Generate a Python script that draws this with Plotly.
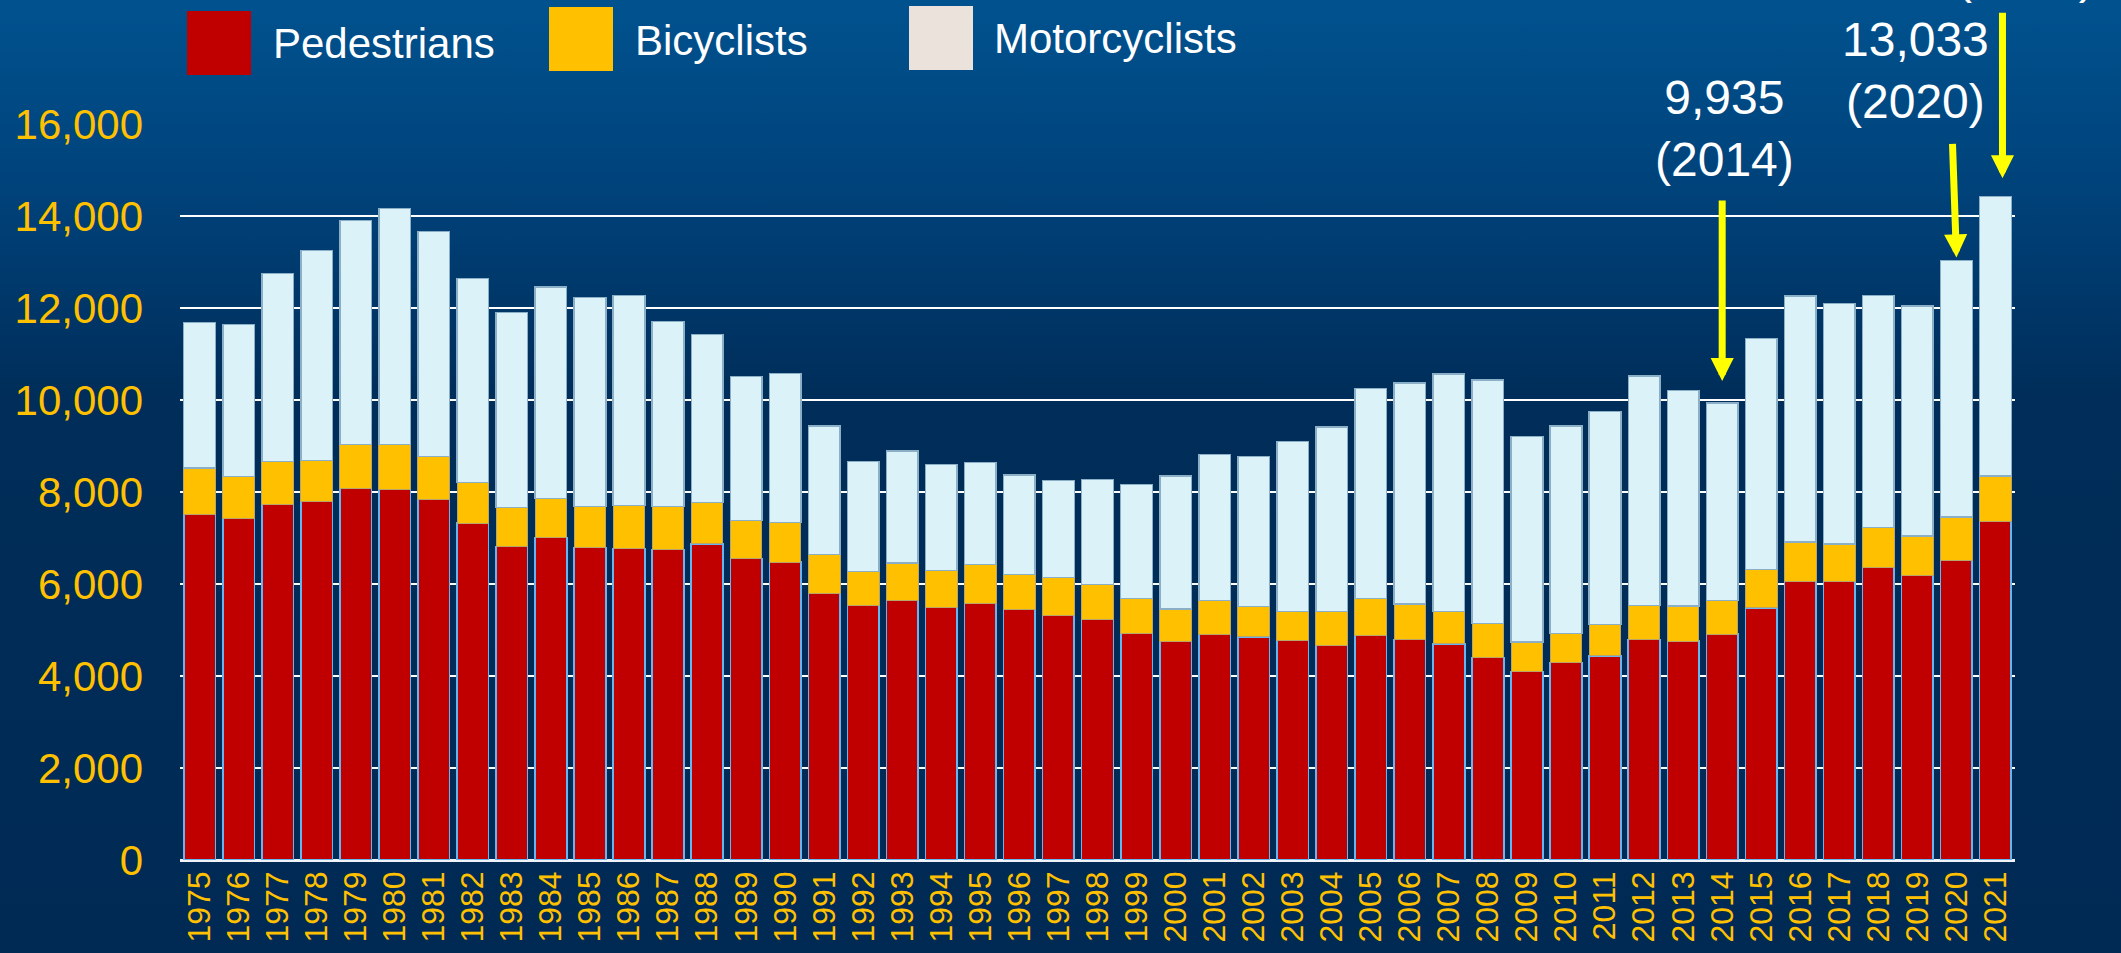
import base64
import plotly.graph_objects as go

# ---------------- data ----------------
years = [str(y) for y in range(1975, 2022)]

pedestrians = [7514, 7420, 7732, 7790, 8087, 8058, 7841, 7326, 6819, 7014,
               6797, 6775, 6746, 6870, 6558, 6478, 5797, 5543, 5645, 5486,
               5580, 5449, 5319, 5225, 4928, 4754, 4899, 4848, 4775, 4674,
               4891, 4797, 4696, 4406, 4101, 4297, 4435, 4795, 4759, 4910,
               5480, 6062, 6062, 6356, 6187, 6516, 7358]

bicyclists = [1008, 921, 927, 898, 942, 971, 934, 877, 840, 841,
              884, 928, 935, 898, 819, 863, 841, 725, 812, 811,
              840, 761, 819, 761, 760, 703, 739, 666, 631, 725,
              790, 768, 703, 732, 638, 631, 684, 737, 758, 730,
              832, 854, 803, 877, 854, 938, 987]

motorcyclists = [3166, 3297, 4087, 4566, 4877, 5130, 4884, 4435, 4247, 4602,
                 4551, 4565, 4029, 3660, 3130, 3231, 2797, 2391, 2434, 2297,
                 2218, 2160, 2108, 2289, 2479, 2891, 3181, 3261, 3695, 4014,
                 4565, 4805, 5166, 5297, 4464, 4507, 4632, 4992, 4691, 4295,
                 5022, 5342, 5228, 5044, 5008, 5579, 6082]

y_ticks = [0, 2000, 4000, 6000, 8000, 10000, 12000, 14000, 16000]
legend_names = ["Pedestrians", "Bicyclists", "Motorcyclists"]
legend_colors = ["#C00000", "#FFC000", "#EBE3DB"]
callout_years = ["2014", "2020", "2021"]

totals = [p + b + m for p, b, m in zip(pedestrians, bicyclists, motorcyclists)]
total_by_year = dict(zip(years, totals))

# ---------------- geometry (pixels) ----------------
W, H = 2121, 953
L, R, T, B = 180, 106, 124, 93
PW, PH = W - L - R, H - T - B


def px_x(px):
    return (px - L) / PW


def px_y(py):
    return (H - B - py) / PH


FONT = "Arial, 'Liberation Sans', sans-serif"
YELLOW = "#FFC000"

fig = go.Figure()

fig.add_trace(go.Bar(x=years, y=pedestrians, name="Pedestrians",
                     marker=dict(color="#C00000", line=dict(color="#66B4F0", width=1.6)),
                     showlegend=False))
fig.add_trace(go.Bar(x=years, y=bicyclists, name="Bicyclists",
                     marker=dict(color="#FFC000", line=dict(color="#B9A46A", width=1)),
                     showlegend=False))
fig.add_trace(go.Bar(x=years, y=motorcyclists, name="Motorcyclists",
                     marker=dict(color="#DAF2F8", line=dict(color="#8AAFC6", width=1.5)),
                     showlegend=False))

# ---------------- background gradient ----------------
svg = ('<svg xmlns="http://www.w3.org/2000/svg" width="100" height="100" '
       'viewBox="0 0 100 100" preserveAspectRatio="none">'
       '<defs><linearGradient id="g" x1="0" y1="0" x2="0" y2="1">'
       '<stop offset="0" stop-color="#00528F"/>'
       '<stop offset="0.2" stop-color="#00427A"/>'
       '<stop offset="0.42" stop-color="#002D59"/>'
       '<stop offset="1" stop-color="#002A54"/>'
       '</linearGradient></defs>'
       '<rect x="0" y="0" width="100" height="100" fill="url(#g)"/></svg>')
src = "data:image/svg+xml;base64," + base64.b64encode(svg.encode()).decode()
fig.add_layout_image(dict(source=src, xref="paper", yref="paper",
                          x=px_x(0), y=px_y(0), sizex=W / PW, sizey=H / PH,
                          xanchor="left", yanchor="top", sizing="stretch",
                          layer="below", opacity=1))

# ---------------- custom legend ----------------
legend_boxes = [(187, 11), (549, 7), (909, 6)]
legend_text_x = [271, 633, 992]
legend_text_y = [44, 41, 39]
for name, color, (bx, by), tx, ty in zip(legend_names, legend_colors, legend_boxes,
                                         legend_text_x, legend_text_y):
    fig.add_shape(type="rect", xref="paper", yref="paper",
                  x0=px_x(bx), x1=px_x(bx + 64), y0=px_y(by + 64), y1=px_y(by),
                  fillcolor=color, line=dict(width=0), layer="above")
    fig.add_annotation(text=name, xref="paper", yref="paper",
                       x=px_x(tx), y=px_y(ty), xanchor="left", yanchor="middle",
                       showarrow=False, font=dict(family=FONT, size=42, color="white"))

# ---------------- callouts ----------------
callout_bottom_px = {"2014": 188, "2020": 130, "2021": 5}
callout_xshift = {"2014": 2, "2020": -41, "2021": 30}
for yr in callout_years:
    idx = years.index(yr)
    fig.add_annotation(text=f"{total_by_year[yr]:,}<br>({yr})", x=idx, xref="x", yref="paper",
                       y=px_y(callout_bottom_px[yr]), yanchor="bottom",
                       xshift=callout_xshift[yr], showarrow=False,
                       font=dict(family=FONT, size=48, color="white"), align="center")

arrow_specs = {"2014": (0, 22, 0, -182), "2020": (0, 3, -4, -115), "2021": (7, 18, 0, -167)}
for yr in callout_years:
    xs, ys, ax, ay = arrow_specs[yr]
    idx = years.index(yr)
    fig.add_annotation(text="", x=idx, y=total_by_year[yr], xref="x", yref="y",
                       xshift=xs, yshift=ys, showarrow=True, ax=ax, ay=ay,
                       arrowhead=2, arrowsize=0.66, arrowwidth=7, arrowcolor="#FFFF00")

fig.update_layout(
    width=W, height=H,
    margin=dict(l=L, r=R, t=T, b=B, pad=0),
    barmode="stack", bargap=0.19,
    paper_bgcolor="#002B55", plot_bgcolor="rgba(0,0,0,0)",
    font=dict(family=FONT, color=YELLOW),
    showlegend=False,
)
fig.update_xaxes(type="category", range=[-0.5, len(years) - 0.5], tickangle=-90,
                 tickmode="array", tickvals=years, ticktext=years,
                 showgrid=False, ticks="", automargin=False,
                 tickfont=dict(family=FONT, size=32, color=YELLOW),
                 showline=False, zeroline=False, ticklabelstandoff=4)
fig.update_yaxes(range=[0, 16000], tickvals=y_ticks,
                 ticktext=[f"{v:,}" for v in y_ticks], automargin=False,
                 tickfont=dict(family=FONT, size=42, color=YELLOW),
                 showgrid=True, gridcolor="white", gridwidth=2,
                 zeroline=True, zerolinecolor="#F0F4F8", zerolinewidth=3,
                 showline=False, ticks="", ticklabelstandoff=36)

fig.write_html("out.html", config={"displayModeBar": False},
               post_script="document.body.style.margin='0';document.body.style.overflow='hidden';")
